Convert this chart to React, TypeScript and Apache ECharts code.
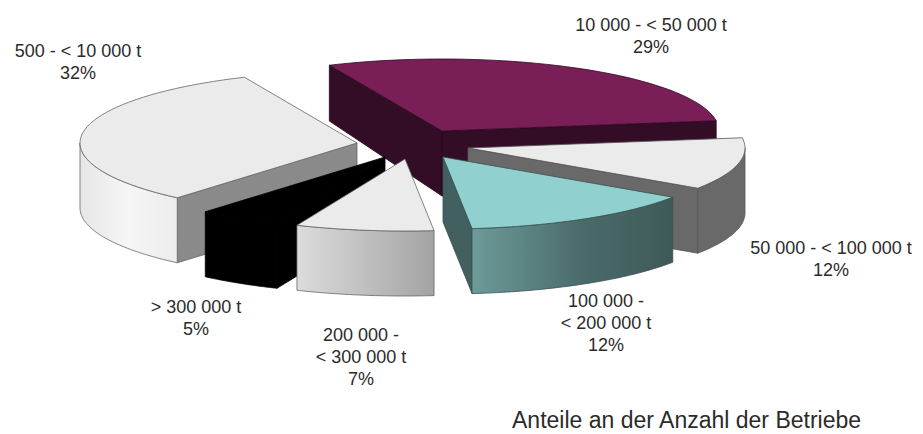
import React, { useEffect, useRef } from "react";
import * as echarts from "echarts";

// Slice names and printed percentages
const sliceNames = ["10 000 - < 50 000 t", "50 000 - < 100 000 t", "100 000 -\n< 200 000 t", "200 000 -\n< 300 000 t", "> 300 000 t", "500 - < 10 000 t"];
const printedPercents = [29, 12, 12, 7, 5, 32];
// Angular shares as drawn in the picture (percent of the circle)
const drawnShares = [29.4, 11.7, 13.9, 8.05, 4.86, 32.1];
const chartCaption = "Anteile an der Anzahl der Betriebe";

// Layout
const CENTER = [415, 150];
const RX = 277;
const RY = 72;
const DEPTH = 65;
const START_DEG = -24;
const explode = [[27, -19], [53, -2], [28, 7], [-10, 9], [-30, 7], [-58, -7]];
const paintOrder = [0, 5, 4, 1, 2, 3];
const labelPos = [[651, 14], [831, 237], [606, 290], [361, 324], [196, 296], [78, 40]];

type Paint = { top: string; radial: string; stroke: string; outer: any };
const grad = (stops: [number, string][]) =>
  new echarts.graphic.LinearGradient(0, 0, 1, 0, stops.map(([offset, color]) => ({ offset, color })));
const paints: Paint[] = [
  { top: "#7a1e58", radial: "#330d26", stroke: "#2a0a20", outer: "#330d26" },
  { top: "#ebebeb", radial: "#696969", stroke: "#555555", outer: "#696969" },
  { top: "#90d0cf", radial: "#426060", stroke: "#3a5050", outer: grad([[0, "#6c9b99"], [0.55, "#4a6b6a"], [1, "#3f5959"]]) },
  { top: "#ebebeb", radial: "#999999", stroke: "#666666", outer: grad([[0, "#dcdcdc"], [1, "#a3a3a3"]]) },
  { top: "#000000", radial: "#000000", stroke: "#000000", outer: "#000000" },
  { top: "#ebebeb", radial: "#8a8a8a", stroke: "#666666", outer: grad([[0, "#e6e6e6"], [0.5, "#f6f6f6"], [1, "#ececec"]]) },
];

const rad = (d: number) => (d * Math.PI) / 180;
const total = drawnShares.reduce((a, b) => a + b, 0);
const startAngles: number[] = [];
drawnShares.reduce((acc, s, i) => {
  startAngles[i] = acc;
  return acc + (s / total) * 360;
}, START_DEG);

function rim(i: number, deg: number) {
  const ax = CENTER[0] + explode[i][0];
  const ay = CENTER[1] + explode[i][1];
  const dy = -RY * Math.cos(rad(deg));
  return [ax + RX * Math.sin(rad(deg)), ay + dy];
}
const depthAt = (dy: number) => Math.min(DEPTH, DEPTH + 0.14 * dy);
const lower = (p: number[], i: number) => {
  const ay = CENTER[1] + explode[i][1];
  return [p[0], p[1] + depthAt(p[1] - ay)];
};

function renderSlice(params: any) {
  const i = params.dataIndex;
  const a0 = startAngles[i];
  const a1 = a0 + (drawnShares[i] / total) * 360;
  const apex = [CENTER[0] + explode[i][0], CENTER[1] + explode[i][1]];
  const p = paints[i];
  const z = paintOrder.indexOf(i);
  const children: any[] = [];
  const base = { stroke: p.stroke, lineWidth: 0.8 };
  const radial = (deg: number) => {
    const r = rim(i, deg);
    children.push({
      type: "polygon",
      z2: z * 10 + 1,
      shape: { points: [apex, r, lower(r, i), lower(apex, i)] },
      style: { fill: p.radial, ...base },
    });
  };
  if (Math.cos(rad(a0 - 90)) < 0) radial(a0);
  if (Math.cos(rad(a1 + 90)) < 0) radial(a1);

  const steps = 48;
  const pointsBetween = (from: number, to: number) => {
    const pts: number[][] = [];
    for (let k = 0; k <= steps; k++) pts.push(rim(i, from + ((to - from) * k) / steps));
    return pts;
  };
  const s = Math.max(a0, 90);
  const e = Math.min(a1, 270);
  if (e > s) {
    const upper = pointsBetween(s, e);
    children.push({
      type: "polygon",
      z2: z * 10 + 2,
      shape: { points: [...upper, ...upper.slice().reverse().map((q) => lower(q, i))] },
      style: { fill: p.outer, ...base },
    });
  }
  children.push({
    type: "polygon",
    z2: z * 10 + 3,
    shape: { points: [apex, ...pointsBetween(a0, a1)] },
    style: { fill: p.top, ...base },
  });
  return { type: "group", children };
}

export default function App() {
  const ref = useRef<HTMLDivElement>(null);
  useEffect(() => {
    document.body.style.margin = "0";
    const chart = echarts.init(ref.current!, null, { renderer: "svg" });
    chart.setOption({
      animation: false,
      backgroundColor: "#ffffff",
      series: [
        {
          type: "custom",
          coordinateSystem: "none",
          silent: true,
          data: drawnShares,
          renderItem: renderSlice,
        },
      ],
      graphic: [
        ...sliceNames.map((name, i) => ({
          type: "text",
          x: labelPos[i][0],
          y: labelPos[i][1],
          style: {
            text: `${name}\n${printedPercents[i]}%`,
            fill: "#2b2b2b",
            font: '18px "Liberation Sans", Arial, sans-serif',
            lineHeight: 22,
            align: "center",
            verticalAlign: "top",
          },
        })),
        {
          type: "text",
          x: 512,
          y: 408,
          style: {
            text: chartCaption,
            fill: "#2b2b2b",
            font: '23px "Liberation Sans", Arial, sans-serif',
            align: "left",
            verticalAlign: "top",
          },
        },
      ],
    });
    return () => chart.dispose();
  }, []);
  return <div ref={ref} style={{ width: 923, height: 434 }} />;
}
